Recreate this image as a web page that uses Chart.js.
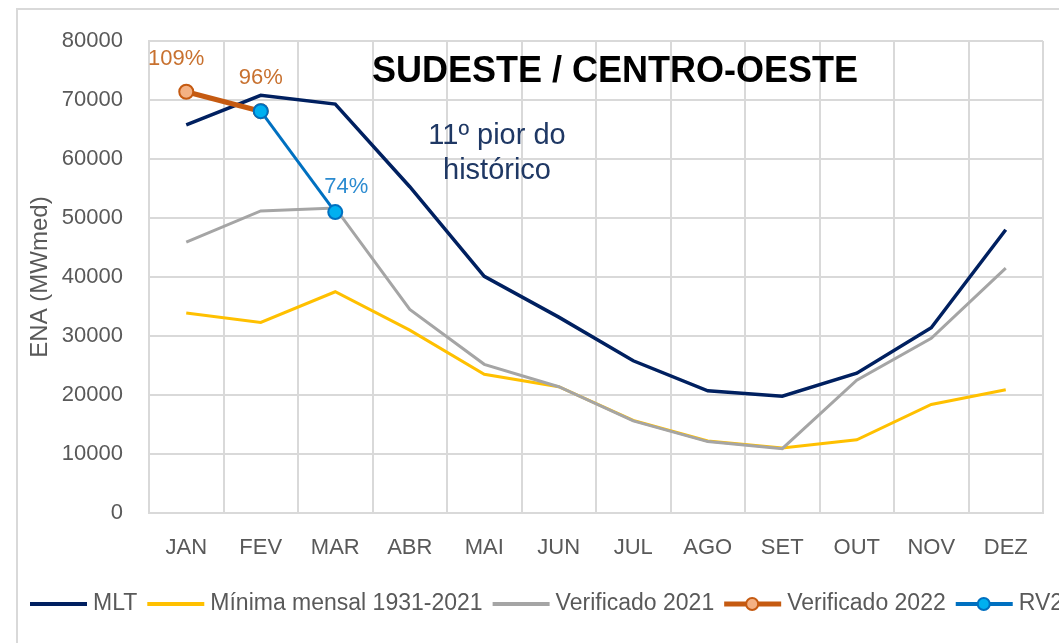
<!DOCTYPE html>
<html>
<head>
<meta charset="utf-8">
<script src="https://cdn.jsdelivr.net/npm/chart.js@4.4.1/dist/chart.umd.min.js"></script>
<style>
  html, body { margin: 0; padding: 0; background: #fff; overflow: hidden; }
  #moldura { position: absolute; left: 16px; top: 8px; width: 1200px; height: 800px; border: 2px solid #d9d9d9; }
  #caixa { position: absolute; left: 0; top: 0; width: 1059px; height: 643px; }
</style>
</head>
<body>
<div id="moldura"></div>
<div id="caixa"><canvas id="grafico" width="1059" height="643"></canvas></div>
<script>
const meses = ['JAN', 'FEV', 'MAR', 'ABR', 'MAI', 'JUN', 'JUL', 'AGO', 'SET', 'OUT', 'NOV', 'DEZ']
const mlt = [65800, 70800, 69300, 55300, 40100, 33200, 25800, 20700, 19800, 23700, 31400, 48000]
const minima = [33900, 32300, 37500, 31000, 23500, 21400, 15700, 12200, 11000, 12400, 18400, 20900]
const verificado2021 = [45900, 51200, 51700, 34500, 25200, 21400, 15600, 12100, 10900, 22500, 29600, 41500]
const verificado2022 = [71400, 68100, null, null, null, null, null, null, null, null, null, null]
const rv2 = [null, 68100, 51000, null, null, null, null, null, null, null, null, null]
const rotulos2022 = ['109%', '96%']
const rotulosRv2 = [null, null, '74%']
const yTicks = [0, 10000, 20000, 30000, 40000, 50000, 60000, 70000, 80000]

const fonte = "'Liberation Sans', Arial, sans-serif"
const cinzaTexto = '#595959'

// rótulos de percentual e textos soltos
const textosPlugin = {
    id: 'textos',
    afterDatasetsDraw(chart) {
        const ctx = chart.ctx
        ctx.save()
        ctx.textAlign = 'center'
        ctx.textBaseline = 'middle'
        ctx.font = `22px ${fonte}`

        const meta22 = chart.getDatasetMeta(3)
        ctx.fillStyle = '#c8712f'
        rotulos2022.forEach((txt, i) => {
            if (!txt) return
            const p = meta22.data[i]
            const dx = i === 0 ? -10 : 0
            ctx.fillText(txt, p.x + dx, p.y - 33)
        })

        const metaRv = chart.getDatasetMeta(4)
        ctx.fillStyle = '#2b8bd0'
        rotulosRv2.forEach((txt, i) => {
            if (!txt) return
            const p = metaRv.data[i]
            ctx.fillText(txt, p.x + 11, p.y - 25)
        })

        ctx.fillStyle = '#000'
        ctx.font = `bold 36px ${fonte}`
        ctx.fillText('SUDESTE / CENTRO-OESTE', 615, 72)

        ctx.fillStyle = '#1f3864'
        ctx.font = `29px ${fonte}`
        ctx.fillText('11º pior do', 497, 136)
        ctx.fillText('histórico', 497, 171)
        ctx.restore()
    }
}

// legenda numa linha só, cortada na borda como no original
const legendaPlugin = {
    id: 'legendaLinha',
    afterDraw(chart) {
        const ctx = chart.ctx
        ctx.save()
        ctx.font = `23px ${fonte}`
        ctx.textBaseline = 'middle'
        ctx.textAlign = 'left'
        const y = 604
        let x = 30
        chart.data.datasets.forEach(ds => {
            ctx.strokeStyle = ds.borderColor
            ctx.lineWidth = Math.max(ds.borderWidth, 4)
            ctx.beginPath()
            ctx.moveTo(x, y)
            ctx.lineTo(x + 57, y)
            ctx.stroke()
            if (ds.pointRadius > 0) {
                ctx.beginPath()
                ctx.arc(x + 28, y, 6, 0, Math.PI * 2)
                ctx.fillStyle = ds.pointBackgroundColor
                ctx.fill()
                ctx.lineWidth = 2
                ctx.strokeStyle = ds.pointBorderColor
                ctx.stroke()
            }
            ctx.fillStyle = cinzaTexto
            ctx.fillText(ds.label, x + 63, y)
            x += 63 + ctx.measureText(ds.label).width + 10
        })
        ctx.restore()
    }
}

const config = {
    type: 'line',
    data: {
        labels: meses,
        datasets: [
            {
                label: 'MLT',
                data: mlt,
                borderColor: '#002060',
                borderWidth: 3.5,
                pointRadius: 0,
                order: 2
            },
            {
                label: 'Mínima mensal 1931-2021',
                data: minima,
                borderColor: '#ffc000',
                borderWidth: 3,
                pointRadius: 0,
                order: 4
            },
            {
                label: 'Verificado 2021',
                data: verificado2021,
                borderColor: '#a5a5a5',
                borderWidth: 3,
                pointRadius: 0,
                order: 3
            },
            {
                label: 'Verificado 2022',
                data: verificado2022,
                borderColor: '#c55a11',
                borderWidth: 5,
                pointRadius: 7,
                pointBackgroundColor: '#f4b183',
                pointBorderColor: '#c55a11',
                pointBorderWidth: 2,
                order: 1
            },
            {
                label: 'RV2',
                data: rv2,
                borderColor: '#0070c0',
                borderWidth: 3,
                pointRadius: 7,
                pointBackgroundColor: '#00b0f0',
                pointBorderColor: '#0070c0',
                pointBorderWidth: 2,
                order: 0
            }
        ]
    },
    options: {
        responsive: false,
        animation: false,
        spanGaps: false,
        layout: { padding: { top: 41, right: 16, left: 0, bottom: 0 } },
        plugins: {
            legend: { display: false },
            tooltip: { enabled: false }
        },
        elements: { line: { tension: 0 } },
        scales: {
            x: {
                offset: true,
                grid: { color: '#d9d9d9', lineWidth: 2, drawTicks: false, offset: true },
                border: { color: '#d9d9d9', width: 2 },
                ticks: { color: cinzaTexto, font: { size: 22, family: fonte }, padding: 22 },
                afterFit(scale) { scale.height = 130 }
            },
            y: {
                min: 0,
                max: 80000,
                afterBuildTicks(scale) { scale.ticks = yTicks.map(v => ({ value: v })) },
                grid: { color: '#d9d9d9', lineWidth: 2, drawTicks: false },
                border: { color: '#d9d9d9', width: 2 },
                ticks: {
                    color: cinzaTexto,
                    font: { size: 22, family: fonte },
                    padding: 26,
                    callback: v => String(v)
                },
                title: {
                    display: true,
                    text: 'ENA (MWmed)',
                    color: cinzaTexto,
                    font: { size: 24, family: fonte },
                    padding: { top: 26, bottom: 0 }
                },
                afterFit(scale) { scale.width = 149 }
            }
        }
    },
    plugins: [textosPlugin, legendaPlugin]
}

new Chart(document.getElementById('grafico'), config)
</script>
</body>
</html>
